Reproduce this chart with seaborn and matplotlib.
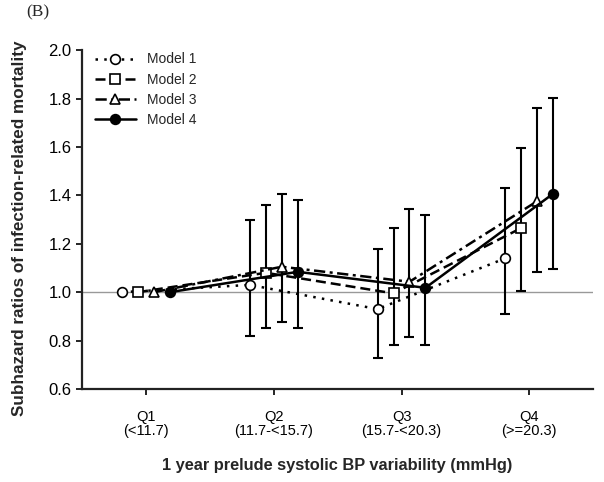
"""
Subhazard ratios of infection-related mortality by quartile of
1 year prelude systolic BP variability (panel B).
"""

import matplotlib
matplotlib.use("Agg")
import matplotlib.pyplot as plt
import numpy as np
import pandas as pd
import seaborn as sns

# ---- data ----
quartiles = ["Q1", "Q2", "Q3", "Q4"]
ranges = ["(<11.7)", "(11.7-<15.7)", "(15.7-<20.3)", "(>=20.3)"]
models = ["Model 1", "Model 2", "Model 3", "Model 4"]

model1_shr = [1.00, 1.03, 0.93, 1.14]
model1_low = [1.00, 0.82, 0.73, 0.91]
model1_high = [1.00, 1.30, 1.18, 1.43]

model2_shr = [1.00, 1.08, 0.995, 1.265]
model2_low = [1.00, 0.85, 0.78, 1.005]
model2_high = [1.00, 1.36, 1.265, 1.595]

model3_shr = [1.00, 1.105, 1.043, 1.376]
model3_low = [1.00, 0.875, 0.815, 1.085]
model3_high = [1.00, 1.405, 1.345, 1.76]

model4_shr = [1.00, 1.084, 1.018, 1.407]
model4_low = [1.00, 0.85, 0.78, 1.095]
model4_high = [1.00, 1.38, 1.32, 1.803]

shr = [model1_shr, model2_shr, model3_shr, model4_shr]
low = [model1_low, model2_low, model3_low, model4_low]
high = [model1_high, model2_high, model3_high, model4_high]

# ---- style per model ----
offsets = [-0.1875, -0.0625, 0.0625, 0.1875]
dashes = [(1, 2.5), (4, 2), (4.5, 1.8, 1.2, 1.8), ""]
markers = ["o", "s", "^", "o"]
facecolors = ["white", "white", "white", "black"]

sns.set_theme(style="ticks")
plt.rcParams["font.family"] = ["Liberation Sans", "DejaVu Sans"]

fig, ax = plt.subplots(figsize=(6.04, 4.82), dpi=100)
fig.subplots_adjust(left=0.136, right=0.982, bottom=0.193, top=0.896)

ax.axhline(1.0, color="#999999", linewidth=1.0, zorder=1)

x = np.arange(len(quartiles))
for i, name in enumerate(models):
    df = pd.DataFrame({"x": x + offsets[i], "shr": shr[i]})
    sns.lineplot(data=df, x="x", y="shr", ax=ax, color="black",
                 linewidth=1.8, dashes=False, marker=markers[i],
                 markersize=7 if markers[i] != "s" else 6.5,
                 markerfacecolor=facecolors[i], markeredgecolor="black",
                 markeredgewidth=1.2, label=name, zorder=3)
    line = ax.get_lines()[-1]
    if dashes[i]:
        line.set_dashes(dashes[i])
    # error bars only for Q2-Q4 (Q1 is the reference)
    yv = np.array(shr[i][1:])
    yerr = [yv - np.array(low[i][1:]), np.array(high[i][1:]) - yv]
    ax.errorbar(x[1:] + offsets[i], yv, yerr=yerr, fmt="none",
                ecolor="black", elinewidth=1.5, capsize=3.5, capthick=1.5,
                zorder=2)

ax.set_xlim(-0.5, 3.5)
ax.set_ylim(0.6, 2.0)
yt = np.arange(0.6, 2.01, 0.2)
ax.set_yticks(yt)
ax.set_yticklabels([f"{v:.1f}" for v in yt], fontsize=12)
ax.set_xticks(x)
ax.set_xticklabels([f"{q}\n{r}" for q, r in zip(quartiles, ranges)],
                   fontsize=10.5, linespacing=1.05)

ax.tick_params(axis="both", direction="out", length=4, width=1.2, colors="black")
ax.tick_params(axis="x", pad=11)
for side in ["top", "right"]:
    ax.spines[side].set_visible(False)
for side in ["left", "bottom"]:
    ax.spines[side].set_linewidth(1.6)
    ax.spines[side].set_color("#222222")

ax.set_xlabel("1 year prelude systolic BP variability (mmHg)",
              fontsize=11.8, fontweight="bold")
ax.set_ylabel("Subhazard ratios of infection-related mortality",
              fontsize=12.3, fontweight="bold")
ax.xaxis.set_label_coords(0.5, -0.203)
ax.yaxis.set_label_coords(-0.108, 0.475)

leg = ax.legend(loc="upper left", bbox_to_anchor=(0.0, 1.03), frameon=False,
                fontsize=10, handlelength=3.0, handletextpad=0.8,
                labelspacing=0.45, borderaxespad=0.5)

fig.text(0.043, 0.974, "(B)", fontsize=12.5,
         family=["Liberation Serif", "DejaVu Serif"], va="center", ha="left")

fig.savefig("out.png", dpi=100)
